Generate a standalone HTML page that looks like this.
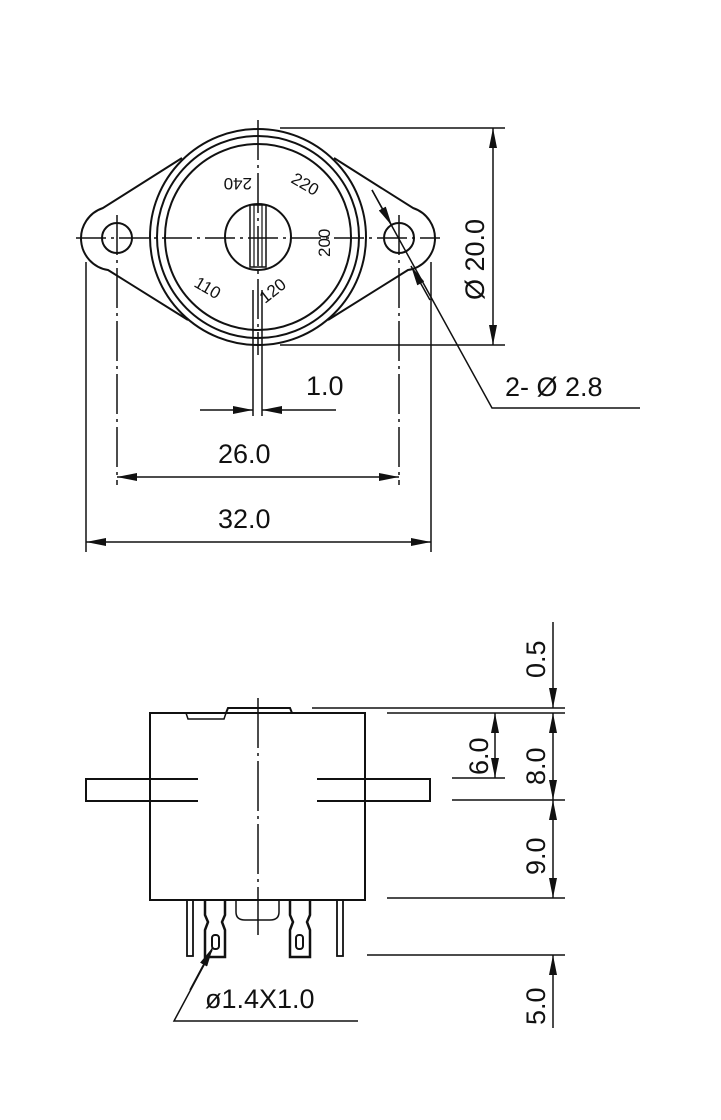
<!DOCTYPE html>
<html><head><meta charset="utf-8"><style>
html,body{margin:0;padding:0;background:#fff;}
svg{display:block;}
text{font-family:"Liberation Sans",sans-serif;fill:#111;}
</style></head><body>
<svg width="721" height="1120" viewBox="0 0 721 1120" xmlns="http://www.w3.org/2000/svg">
<defs>
<marker id="a" viewBox="0 0 20 8" refX="20" refY="4" markerWidth="20" markerHeight="8" markerUnits="userSpaceOnUse" orient="auto"><path d="M0,0 L20,4 L0,8 Z" fill="#111"/></marker>
</defs>
<g stroke="#111" stroke-width="2" fill="none">
<path d="M182,158 L103,208 A32,32 0 0 0 108,270 L188,320"/>
<path d="M334,158 L413,208 A32,32 0 0 1 408,270 L328,320"/>
<circle cx="258" cy="237" r="108"/>
<circle cx="258" cy="237" r="101"/>
<circle cx="258" cy="237" r="93"/>
<circle cx="258" cy="237" r="33"/>
<circle cx="117" cy="238" r="15"/>
<circle cx="399" cy="238" r="15"/>
<rect x="250" y="205" width="16" height="62" stroke-width="1.5"/>
<line x1="254" y1="205" x2="254" y2="267" stroke-width="1.2"/>
<line x1="262" y1="205" x2="262" y2="267" stroke-width="1.2"/>
</g>
<g stroke="#111" stroke-width="1.5" fill="none">
<line x1="76" y1="238" x2="440" y2="238" stroke-dasharray="30,5,3,5"/>
<line x1="258" y1="120" x2="258" y2="355" stroke-dasharray="40,5,3,5"/>
<line x1="117" y1="215" x2="117" y2="485" stroke-dasharray="40,5,3,5"/>
<line x1="399" y1="215" x2="399" y2="485" stroke-dasharray="40,5,3,5"/>
<line x1="86" y1="262" x2="86" y2="552"/>
<line x1="431" y1="262" x2="431" y2="552"/>
<line x1="253" y1="290" x2="253" y2="416"/>
<line x1="262" y1="290" x2="262" y2="416"/>
<line x1="200" y1="410" x2="253" y2="410" marker-end="url(#a)"/>
<line x1="336" y1="410" x2="262" y2="410" marker-end="url(#a)"/>
<line x1="258" y1="477" x2="117" y2="477" marker-end="url(#a)"/>
<line x1="258" y1="477" x2="399" y2="477" marker-end="url(#a)"/>
<line x1="258" y1="542" x2="86" y2="542" marker-end="url(#a)"/>
<line x1="258" y1="542" x2="431" y2="542" marker-end="url(#a)"/>
<line x1="280" y1="128" x2="505" y2="128"/>
<line x1="280" y1="345" x2="505" y2="345"/>
<line x1="493" y1="237" x2="493" y2="128" marker-end="url(#a)"/>
<line x1="493" y1="237" x2="493" y2="345" marker-end="url(#a)"/>
<polyline points="640,408 492,408 372,190"/>
<line x1="372" y1="190" x2="392" y2="226" marker-end="url(#a)"/>
<line x1="430" y1="300" x2="411" y2="266" marker-end="url(#a)"/>
</g>
<text font-size="17" transform="translate(252,178) rotate(180)">240</text>
<text font-size="17" transform="translate(290,182) rotate(30)">220</text>
<text font-size="17" transform="translate(330,257) rotate(-90)">200</text>
<text font-size="17" transform="translate(193,286) rotate(30)">110</text>
<text font-size="17" transform="translate(265,304) rotate(-38)">120</text>
<text x="306" y="395" font-size="27">1.0</text>
<text x="218" y="463" font-size="27">26.0</text>
<text x="218" y="528" font-size="27">32.0</text>
<text x="505" y="396" font-size="27">2- Ø 2.8</text>
<text font-size="27" transform="translate(484,300) rotate(-90)">Ø 20.0</text>

<g stroke="#111" stroke-width="2" fill="none">
<rect x="150" y="713" width="215" height="187"/>
<path d="M226,713 L228,708 L290,708 L292,713"/>
<path d="M186,713 L188,719 L224,719 L226,713" stroke-width="1.5"/>
<path d="M198,779 L86,779 L86,801 L198,801"/>
<path d="M317,779 L430,779 L430,801 L317,801"/>
<rect x="187" y="900" width="6" height="56" stroke-width="1.8"/>
<rect x="337" y="900" width="6" height="56" stroke-width="1.8"/>
<path d="M205,900 L205,915 L208,922 L205,930 L205,957 L225,957 L225,930 L222,922 L225,915 L225,900" stroke-width="2.5"/>
<path d="M290,900 L290,915 L293,922 L290,930 L290,957 L310,957 L310,930 L307,922 L310,915 L310,900" stroke-width="2.5"/>
<rect x="212" y="935" width="7" height="14" rx="3" stroke-width="2"/>
<rect x="296" y="935" width="7" height="14" rx="3" stroke-width="2"/>
<path d="M236,900 L236,912 Q236,920 245,920 L270,920 Q279,920 279,912 L279,900" stroke-width="1.5"/>
</g>
<g stroke="#111" stroke-width="1.5" fill="none">
<line x1="258" y1="698" x2="258" y2="935" stroke-dasharray="50,5,3,5"/>
<line x1="312" y1="708" x2="565" y2="708"/>
<line x1="387" y1="713" x2="565" y2="713"/>
<line x1="452" y1="778" x2="505" y2="778"/>
<line x1="452" y1="800" x2="565" y2="800"/>
<line x1="387" y1="898" x2="565" y2="898"/>
<line x1="367" y1="955" x2="565" y2="955"/>
<line x1="553" y1="622" x2="553" y2="708" marker-end="url(#a)"/>
<line x1="553" y1="755" x2="553" y2="713" marker-end="url(#a)"/>
<line x1="553" y1="755" x2="553" y2="800" marker-end="url(#a)"/>
<line x1="553" y1="850" x2="553" y2="800" marker-end="url(#a)"/>
<line x1="553" y1="850" x2="553" y2="898" marker-end="url(#a)"/>
<line x1="553" y1="1028" x2="553" y2="955" marker-end="url(#a)"/>
<line x1="495" y1="745" x2="495" y2="713" marker-end="url(#a)"/>
<line x1="495" y1="745" x2="495" y2="778" marker-end="url(#a)"/>
<polyline points="358,1021 174,1021 212,950"/>
<line x1="190" y1="990" x2="213" y2="947" marker-end="url(#a)"/>
</g>
<text font-size="27" transform="translate(545,678) rotate(-90)">0.5</text>
<text font-size="27" transform="translate(545,785) rotate(-90)">8.0</text>
<text font-size="27" transform="translate(488,775) rotate(-90)">6.0</text>
<text font-size="27" transform="translate(545,875) rotate(-90)">9.0</text>
<text font-size="27" transform="translate(545,1025) rotate(-90)">5.0</text>
<text x="205" y="1008" font-size="27">ø1.4X1.0</text>
</svg>
</body></html>
